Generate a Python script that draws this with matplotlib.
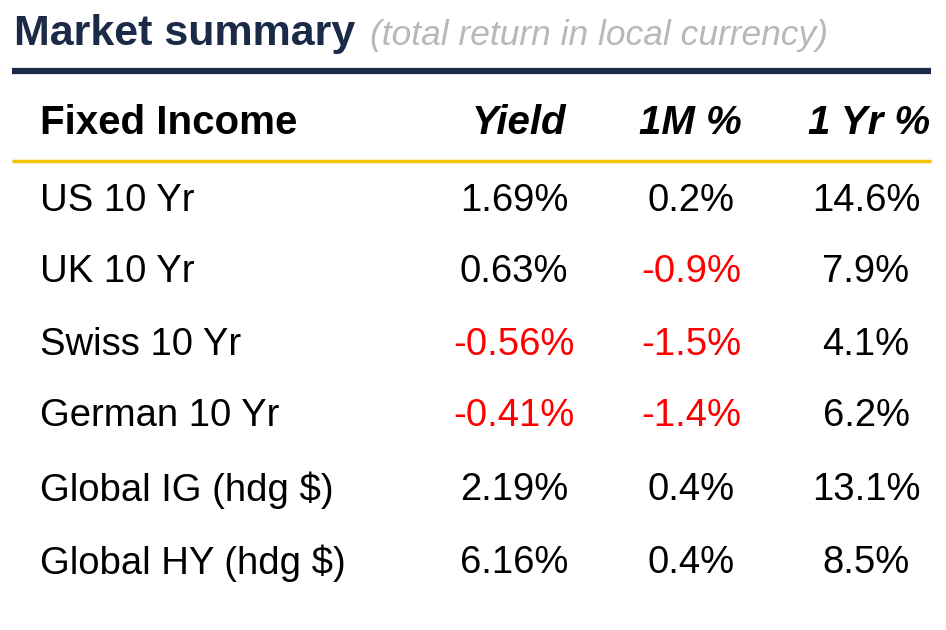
import matplotlib
matplotlib.use("Agg")
import matplotlib.pyplot as plt

title = "Market summary"
subtitle = "(total return in local currency)"
headers = ["Fixed Income", "Yield", "1M %", "1 Yr %"]
names = ["US 10 Yr", "UK 10 Yr", "Swiss 10 Yr", "German 10 Yr", "Global IG (hdg $)", "Global HY (hdg $)"]
yields = [1.69, 0.63, -0.56, -0.41, 2.19, 6.16]
m1 = [0.2, -0.9, -1.5, -1.4, 0.4, 0.4]
yr1 = [14.6, 7.9, 4.1, 6.2, 13.1, 8.5]

plt.rcParams['font.family'] = ['Liberation Sans', 'DejaVu Sans']
fig = plt.figure(figsize=(9.46, 6.3), dpi=100)
ax = fig.add_axes([0, 0, 1, 1])
ax.set_xlim(0, 946); ax.set_ylim(630, 0); ax.axis('off')

ax.text(14, 34, title, fontsize=31, fontweight='bold', color='#1b2a47', va='center')
ax.text(370, 36, subtitle, fontsize=25.5, style='italic', color='#b8b8b8', va='center')
ax.plot([12, 931], [71, 71], color='#1b2a47', lw=4.5, solid_capstyle='butt')
ax.plot([12, 931], [161, 161], color='#f5c200', lw=2.5, solid_capstyle='butt')

hy = 123
ax.text(40, hy, headers[0], fontsize=29, fontweight='bold', va='center')
for x, h in zip([566, 742, 930], headers[1:]):
    ax.text(x, hy, h, fontsize=29, fontweight='bold', style='italic', va='center', ha='right')

rows_y = [201, 272, 345, 416, 490, 563]
for i, y in enumerate(rows_y):
    ax.text(40, y, names[i], fontsize=27.5, va='center')
    for x, v, fmt in [(514, yields[i], "{:.2f}%"), (691, m1[i], "{:.1f}%"), (866, yr1[i], "{:.1f}%")]:
        ax.text(x, y, fmt.format(v), fontsize=27.5, va='center', ha='center',
                color='#ff0000' if v < 0 else 'black')

fig.savefig("out.png", dpi=100)
